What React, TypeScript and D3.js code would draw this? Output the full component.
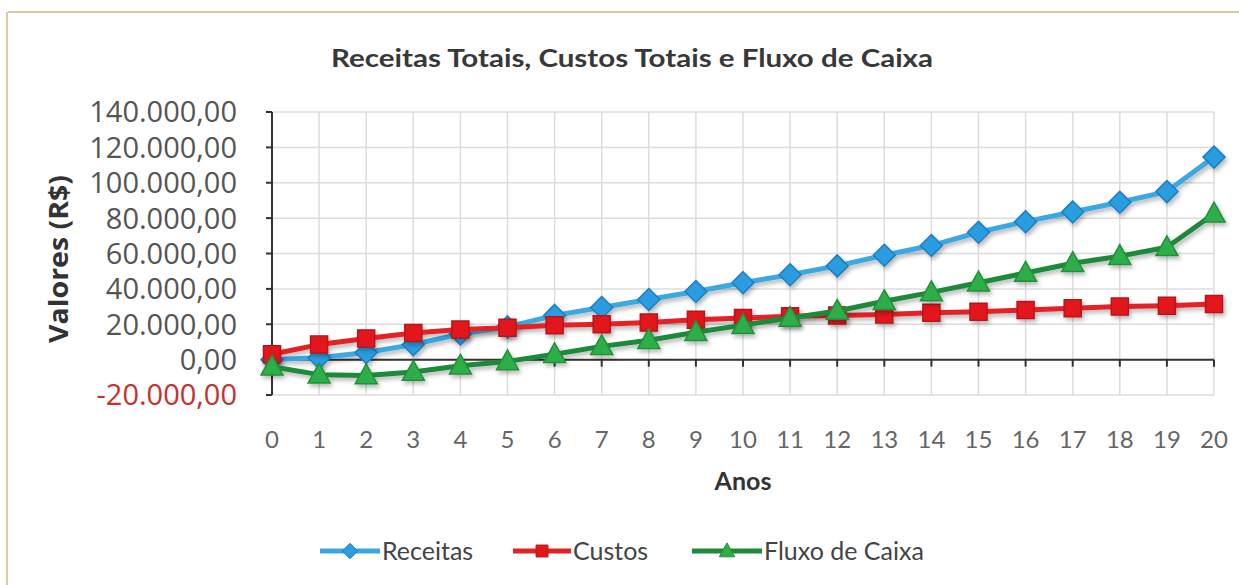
import React from "react";
import * as d3 from "d3";

const anos = [0, 1, 2, 3, 4, 5, 6, 7, 8, 9, 10, 11, 12, 13, 14, 15, 16, 17, 18, 19, 20];
const receitas = [0, 1000, 4000, 8500, 14500, 18500, 25000, 29500, 34000, 38500, 43500, 48000, 53000, 59000, 64500, 72000, 78000, 83500, 89000, 95000, 114500];
const custos = [3000, 8500, 12000, 15000, 17000, 18000, 19500, 20000, 21000, 22500, 23500, 24500, 25000, 25500, 26500, 27000, 28000, 29000, 30000, 30500, 31500];
const fluxo = [-4000, -8500, -9000, -7000, -3500, -1000, 3000, 7500, 11000, 15500, 19500, 23500, 27500, 33000, 38000, 43500, 49000, 54500, 58500, 63500, 82500];
const yTicks = [-20000, 0, 20000, 40000, 60000, 80000, 100000, 120000, 140000];
const seriesNames = ["Receitas", "Custos", "Fluxo de Caixa"];

const W = 1239;
const H = 585;
const left = 272;
const right = 1214;
const top = 112;
const bottom = 395;

const fmt = (v: number) => {
  const s = d3.format(",.2f")(v);
  return s.replace(/,/g, "#").replace(/\./g, ",").replace(/#/g, ".").replace("−", "-");
};

type Marker = "diamond" | "square" | "triangle";
const styles = [
  { line: "#3aa8e0", fill: "#2b9de0", stroke: "#1d7dc0", marker: "diamond" as Marker, size: 11 },
  { line: "#e32228", fill: "#e3161c", stroke: "#b5151a", marker: "square" as Marker, size: 8.5 },
  { line: "#1f8a3b", fill: "#2fae48", stroke: "#22903a", marker: "triangle" as Marker, size: 11 },
];

function markerPath(m: Marker, s: number) {
  if (m === "diamond") return `M0,${-s}L${s},0L0,${s}L${-s},0Z`;
  if (m === "square") return `M${-s},${-s}H${s}V${s}H${-s}Z`;
  return `M0,${-s * 1.05}L${s},${s * 0.75}L${-s},${s * 0.75}Z`;
}

export default function App() {
  const x = d3.scaleLinear().domain([0, 20]).range([left, right]);
  const y = d3.scaleLinear().domain([-20000, 140000]).range([bottom, top]);
  const data = [receitas, custos, fluxo];
  const line = d3
    .line<number>()
    .x((_, i) => x(anos[i]))
    .y((d) => y(d));

  const legendItems = [
    { x0: 320, tx: 382 },
    { x0: 513, tx: 573 },
    { x0: 692, tx: 764 },
  ];

  return (
    <svg
      width={W}
      height={H}
      style={{ position: "absolute", left: 0, top: 0, background: "#fff" }}
    >
      <defs>
        <filter id="sh" x="-10%" y="-10%" width="120%" height="130%">
          <feDropShadow dx="2" dy="3" stdDeviation="2" floodColor="#000" floodOpacity="0.28" />
        </filter>
      </defs>
      <rect x={0} y={0} width={W} height={H} fill="#fff" />
      <line x1={8} x2={W} y1={12} y2={12} stroke="#dcc8a4" strokeWidth={2} />
      <line x1={7} x2={7} y1={12} y2={H} stroke="#dcc8a4" strokeWidth={2} />

      <text
        x={632}
        y={67}
        textAnchor="middle"
        fontFamily="Lato, 'Open Sans', sans-serif"
        fontWeight={700}
        fontSize={25}
        fill="#383838"
        textLength={602}
        lengthAdjust="spacingAndGlyphs"
      >
        Receitas Totais, Custos Totais e Fluxo de Caixa
      </text>

      {/* grid */}
      {yTicks.map((t) => (
        <line key={"gy" + t} x1={left} x2={right} y1={y(t)} y2={y(t)} stroke="#dcdcdc" strokeWidth={1.5} />
      ))}
      {anos.map((a) => (
        <line key={"gx" + a} x1={x(a)} x2={x(a)} y1={top} y2={bottom} stroke="#dcdcdc" strokeWidth={1.5} />
      ))}

      {/* y axis */}
      <line x1={left} x2={left} y1={top} y2={bottom} stroke="#333" strokeWidth={2} />
      {yTicks.map((t) => (
        <g key={"yt" + t}>
          <line x1={left - 6} x2={left} y1={y(t)} y2={y(t)} stroke="#333" strokeWidth={2} />
          <text
            x={237}
            y={y(t)}
            dy="0.36em"
            textAnchor="end"
            fontFamily="'Open Sans', sans-serif"
            fontSize={29}
            fill={t < 0 ? "#c8302c" : "#555"}
          >
            {fmt(t)}
          </text>
        </g>
      ))}

      {/* x axis at zero */}
      <line x1={left} x2={right} y1={y(0)} y2={y(0)} stroke="#333" strokeWidth={2} />
      {anos.map((a) => (
        <line key={"xt" + a} x1={x(a)} x2={x(a)} y1={y(0)} y2={y(0) + 7} stroke="#333" strokeWidth={2} />
      ))}
      {anos.map((a) => (
        <text
          key={"xl" + a}
          x={x(a)}
          y={439}
          dy="0.36em"
          textAnchor="middle"
          fontFamily="Lato, 'Open Sans', sans-serif"
          fontSize={24}
          fill="#666"
        >
          {a}
        </text>
      ))}

      <text
        x={743}
        y={481}
        dy="0.36em"
        textAnchor="middle"
        fontFamily="Lato, 'Open Sans', sans-serif"
        fontWeight={700}
        fontSize={25}
        fill="#333"
      >
        Anos
      </text>

      <text
        transform={`translate(58,${259}) rotate(-90)`}
        dy="0.36em"
        textAnchor="middle"
        fontFamily="'Open Sans', sans-serif"
        fontWeight={700}
        fontSize={27}
        fill="#333"
        textLength={168}
        lengthAdjust="spacingAndGlyphs"
      >
        Valores (R$)
      </text>

      {/* series */}
      {data.map((vals, si) => (
        <g key={"s" + si} filter="url(#sh)">
          <path d={line(vals) || ""} fill="none" stroke={styles[si].line} strokeWidth={5} strokeLinejoin="round" />
          {vals.map((v, i) => (
            <path
              key={i}
              transform={`translate(${x(anos[i])},${y(v)})`}
              d={markerPath(styles[si].marker, styles[si].size)}
              fill={styles[si].fill}
              stroke={styles[si].stroke}
              strokeWidth={1.5}
            />
          ))}
        </g>
      ))}

      {/* legend */}
      {seriesNames.map((n, si) => {
        const it = legendItems[si];
        const cx = (it.x0 + it.tx - 2) / 2;
        return (
          <g key={"lg" + si}>
            <line x1={it.x0} x2={it.tx - 2} y1={551} y2={551} stroke={styles[si].line} strokeWidth={5} />
            <path
              transform={`translate(${cx},551)`}
              d={markerPath(styles[si].marker, styles[si].size * 0.7)}
              fill={styles[si].fill}
              stroke={styles[si].stroke}
              strokeWidth={1}
            />
            <text
              x={it.tx}
              y={551}
              dy="0.36em"
              fontFamily="Lato, 'Open Sans', sans-serif"
              fontSize={25}
              fill="#444"
            >
              {n}
            </text>
          </g>
        );
      })}
    </svg>
  );
}
